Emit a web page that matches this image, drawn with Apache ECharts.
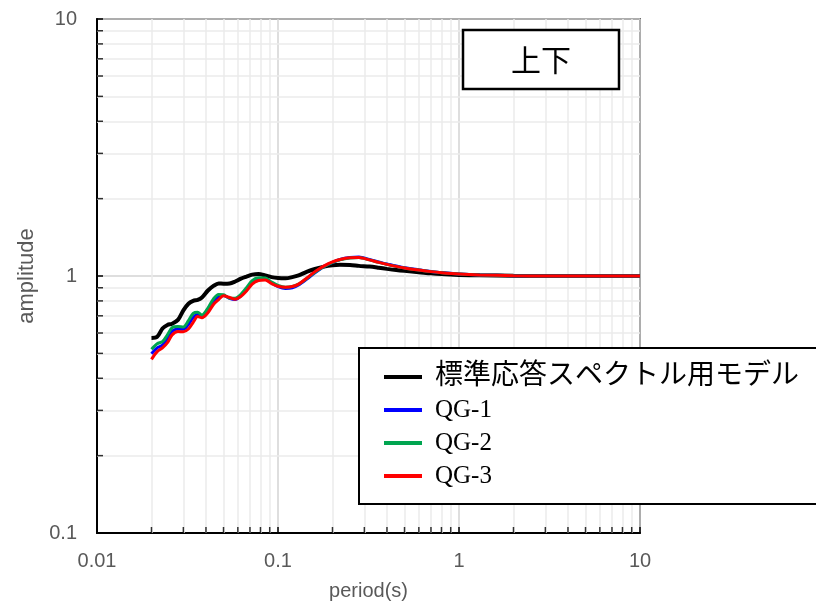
<!DOCTYPE html>
<html><head><meta charset="utf-8">
<script src="https://cdn.jsdelivr.net/npm/echarts@6/dist/echarts.min.js"></script>
<style>html,body{margin:0;padding:0;background:#fff}#c{width:816px;height:606px}</style>
</head><body><div id="c"></div>
<script>
// ---- data ----
const periods = [0.02,0.0215,0.023,0.0245,0.026,0.028,0.030,0.032,0.034,0.036,0.038,0.041,0.044,0.047,0.050,0.054,0.058,0.062,0.067,0.072,0.078,0.085,0.092,0.10,0.11,0.12,0.13,0.145,0.16,0.18,0.2,0.22,0.25,0.28,0.32,0.36,0.4,0.45,0.5,0.6,0.7,0.8,1.0,1.3,2,3,5,7,10];
const modelStd = [0.574,0.58,0.625,0.645,0.652,0.675,0.735,0.78,0.80,0.808,0.825,0.878,0.915,0.935,0.933,0.935,0.952,0.975,0.995,1.012,1.018,1.005,0.99,0.982,0.98,0.99,1.005,1.04,1.065,1.088,1.10,1.105,1.104,1.095,1.088,1.077,1.066,1.055,1.047,1.035,1.024,1.017,1.01,1.006,1.002,1.0,1.0,1.0,1.0];
const qg1 = [0.498,0.525,0.538,0.57,0.61,0.622,0.62,0.648,0.69,0.71,0.695,0.735,0.795,0.83,0.84,0.818,0.81,0.835,0.89,0.945,0.975,0.975,0.94,0.91,0.895,0.90,0.922,0.975,1.03,1.09,1.13,1.16,1.18,1.185,1.16,1.135,1.113,1.093,1.077,1.057,1.042,1.031,1.019,1.01,1.003,1.0,1.0,1.0,1.0];
const qg2 = [0.519,0.545,0.555,0.59,0.63,0.636,0.633,0.67,0.715,0.722,0.705,0.75,0.815,0.848,0.845,0.82,0.82,0.845,0.90,0.96,0.985,0.982,0.948,0.92,0.905,0.91,0.93,0.98,1.035,1.09,1.13,1.157,1.176,1.18,1.155,1.13,1.11,1.09,1.075,1.055,1.04,1.03,1.018,1.01,1.003,1.0,1.0,1.0,1.0];
const qg3 = [0.474,0.508,0.525,0.55,0.59,0.608,0.607,0.622,0.66,0.695,0.688,0.72,0.775,0.81,0.838,0.825,0.812,0.83,0.875,0.93,0.96,0.965,0.935,0.912,0.904,0.91,0.93,0.985,1.04,1.095,1.135,1.16,1.178,1.18,1.155,1.13,1.11,1.09,1.075,1.055,1.04,1.03,1.018,1.01,1.003,1.0,1.0,1.0,1.0];
const seriesNames = ['標準応答スペクトル用モデル','QG-1','QG-2','QG-3'];
const seriesColors = ['#000000','#0000ff','#00a550','#ff0000'];
const seriesWidths = [4,3,3,3];
const xTickLabels = ['0.01','0.1','1','10'];
const yTickLabels = ['0.1','1','10'];
const xMinorTicks = [0.02,0.03,0.04,0.05,0.06,0.07,0.08,0.09,0.2,0.3,0.4,0.5,0.6,0.7,0.8,0.9,2,3,4,5,6,7,8,9];
const yMinorTicks = [0.2,0.3,0.4,0.5,0.6,0.7,0.8,0.9,2,3,4,5,6,7,8,9];
const panelTitle = '上下';

const allValues = [modelStd, qg1, qg2, qg3];
const lineSeries = allValues.map((vals, i) => ({
  name: seriesNames[i],
  type: 'line',
  data: periods.map((p, j) => [p, vals[j]]),
  smooth: 0.3,
  symbol: 'none',
  lineStyle: { color: seriesColors[i], width: seriesWidths[i] },
  itemStyle: { color: seriesColors[i] },
  z: 3 + i,
  silent: true
}));

const labelStyle = { color: '#595959', fontSize: 20, fontFamily: 'Liberation Sans, Arial, sans-serif' };

const option = {
  backgroundColor: '#fff',
  animation: false,
  grid: { left: 97, right: 176, top: 19, bottom: 73, show: true, borderColor: '#000', borderWidth: 1.5, backgroundColor: 'transparent' },
  xAxis: {
    type: 'log', logBase: 10, min: 0.01, max: 10,
    name: 'period(s)', nameLocation: 'middle', nameGap: 48,
    nameTextStyle: { color: '#595959', fontSize: 20, fontFamily: 'Liberation Sans, Arial, sans-serif' },
    axisLine: { lineStyle: { color: '#000', width: 2 } },
    axisTick: { inside: true, length: 6, lineStyle: { color: '#000', width: 1.5 } },
    axisLabel: Object.assign({ margin: 18, formatter: v => xTickLabels.find(t => Math.abs(parseFloat(t) - v) < 1e-9 * Math.max(1, v)) || '' }, labelStyle),
    splitLine: { show: true, lineStyle: { color: '#d3d3d3', width: 1.5 } }
  },
  yAxis: {
    type: 'log', logBase: 10, min: 0.1, max: 10,
    name: 'amplitude', nameLocation: 'middle', nameGap: 58, nameRotate: 90,
    nameTextStyle: { color: '#595959', fontSize: 22, fontFamily: 'Liberation Sans, Arial, sans-serif' },
    axisLine: { lineStyle: { color: '#000', width: 2 } },
    axisTick: { inside: true, length: 6, lineStyle: { color: '#000', width: 1.5 } },
    axisLabel: Object.assign({ margin: 20, formatter: v => yTickLabels.find(t => Math.abs(parseFloat(t) - v) < 1e-9 * Math.max(1, v)) || '' }, labelStyle),
    splitLine: { show: true, lineStyle: { color: '#d3d3d3', width: 1.5 } }
  },
  legend: {
    orient: 'vertical', left: 359, top: 348,
    data: seriesNames,
    backgroundColor: 'transparent', borderWidth: 0,
    padding: [14, 0, 12, 25],
    itemWidth: 38, itemHeight: 4, itemGap: 3,
    icon: 'rect',
    itemStyle: { borderWidth: 0 },
    selectedMode: false,
    formatter: name => (/^[\x00-\x7f]+$/.test(name) ? '{q|' + name + '}' : '{j|' + name + '}'),
    textStyle: {
      color: '#000', fontSize: 28, lineHeight: 30,
      rich: {
        j: { fontSize: 28, lineHeight: 30, padding: [0, 0, 0, 8], fontFamily: 'Liberation Serif, Noto Sans CJK JP, serif', color: '#000' },
        q: { fontSize: 25, lineHeight: 30, padding: [0, 0, 0, 8], fontFamily: 'Liberation Serif, serif', color: '#000' }
      }
    },
    z: 20
  },
  graphic: [
    { type: 'rect', z: 15, shape: { x: 359, y: 348, width: 520, height: 156 }, style: { fill: '#fff', stroke: null, lineWidth: 0 } },
    { type: 'polyline', z: 16, shape: { points: [[880, 348], [359, 348], [359, 504], [880, 504]] }, style: { fill: null, stroke: '#000', lineWidth: 2 } },
    { type: 'rect', z: 30, shape: { x: 463, y: 30, width: 156, height: 59 }, style: { fill: '#fff', stroke: '#000', lineWidth: 2.5 } },
    { type: 'text', x: 541, y: 60, z: 31, style: { text: panelTitle, fontSize: 30, fontFamily: 'Noto Sans CJK JP, sans-serif', fill: '#000', align: 'center', verticalAlign: 'middle' } }
  ],
  series: [
    {
      type: 'scatter', name: '_grid', data: [], silent: true, z: 1,
      markLine: {
        z: 1,
        silent: true, symbol: 'none', animation: false,
        label: { show: false },
        lineStyle: { color: '#ebebeb', width: 1.5, type: 'solid' },
        emphasis: { disabled: true },
        data: xMinorTicks.map(v => ({ xAxis: v })).concat(yMinorTicks.map(v => ({ yAxis: v })))
      }
    },
    {
      type: 'scatter', name: '_xticks', silent: true, z: 8, clip: false,
      data: xMinorTicks.map(v => [v, 0.1]),
      symbol: 'rect', symbolSize: [1.5, 6], symbolOffset: [0, -3],
      itemStyle: { color: '#000' }
    },
    {
      type: 'scatter', name: '_yticks', silent: true, z: 8, clip: false,
      data: yMinorTicks.map(v => [0.01, v]),
      symbol: 'rect', symbolSize: [6, 1.5], symbolOffset: [3, 0],
      itemStyle: { color: '#000' }
    }
  ].concat(lineSeries)
};

const chart = echarts.init(document.getElementById('c'), null, { renderer: 'canvas' });
chart.setOption(option);
</script>
</body></html>
